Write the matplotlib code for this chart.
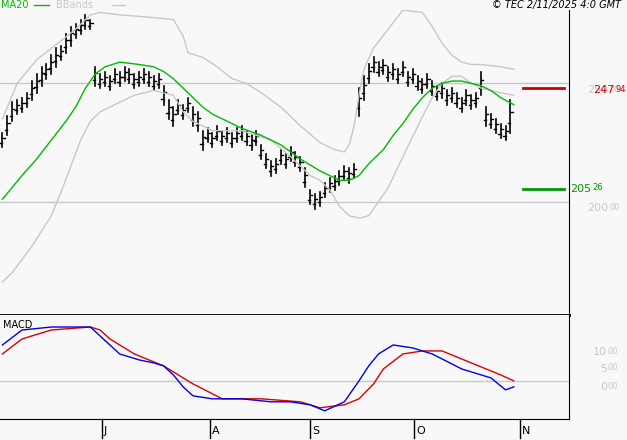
import matplotlib
matplotlib.use('Agg')
import matplotlib.pyplot as plt

# closing prices per bar (daily)
closes = [226, 232, 238, 240, 241, 243, 247, 250, 253, 255, 258, 261, 263, 267, 270, 272,
          274, 276, 275, 253, 251, 252, 250, 253, 252, 254, 253, 251, 252, 253, 252, 250,
          251, 245, 239, 236, 240, 238, 241, 236, 234, 226, 228, 226, 229, 227, 228, 226,
          228, 229, 227, 225, 227, 221, 217, 214, 215, 219, 217, 220, 218, 216, 210, 202,
          200, 201, 205, 207, 208, 210, 212, 211, 213, 242, 248, 254, 258, 256, 257, 254,
          255, 253, 256, 252, 253, 250, 249, 251, 248, 246, 247, 244, 245, 243, 241, 244,
          242, 243, 250, 236, 234, 232, 230, 229, 236]
half_range = [3, 4, 4, 3, 3, 3, 4, 4, 4, 3, 4, 4, 3, 4, 4, 3,
              3, 3, 2, 4, 3, 3, 3, 3, 3, 3, 3, 3, 3, 3, 3, 3,
              3, 4, 4, 4, 3, 3, 3, 4, 4, 4, 3, 3, 3, 3, 3, 3,
              3, 3, 3, 3, 3, 3, 3, 3, 3, 3, 3, 3, 3, 3, 4, 3,
              3, 3, 3, 3, 3, 3, 3, 3, 3, 6, 5, 4, 3, 3, 3, 3,
              3, 3, 3, 3, 3, 3, 3, 3, 3, 3, 3, 3, 3, 3, 3, 3,
              3, 3, 5, 4, 3, 3, 3, 3, 7]

# indicator traces (bar index, value)
ma_x = [0, 2, 4, 7, 10, 13, 15, 17, 19, 21, 24, 28, 31, 33, 35, 37, 39, 41, 43, 46, 49, 53,
        57, 61, 65, 69, 71, 73, 75, 78, 80, 82, 84, 86, 88, 90, 92, 94, 96, 98, 100, 102, 104.7]
ma_y = [201, 206, 211, 218, 226, 234, 240, 248, 254, 257, 259, 258, 257, 255, 252, 248, 244,
        240, 237, 234, 231, 228, 224, 218, 213, 209, 209, 211, 216, 222, 228, 233, 239, 244,
        248, 250, 251, 251, 250, 249, 247, 244, 241]
up_x = [0, 3, 7, 12, 15, 18, 20, 24, 30, 35, 37, 38, 41, 44, 47, 50, 53, 57, 61, 65, 68, 70,
        71, 72, 73, 74, 76, 79, 82, 86, 88, 90, 92, 94, 96, 98, 102, 104.7]
up_y = [235, 250, 260, 268, 273, 279, 280, 279, 278, 277, 270, 263, 261, 257, 252, 250, 246,
        240, 232, 225, 222, 221, 224, 232, 245, 256, 265, 273, 281, 280, 274, 267, 262, 259,
        258, 258, 257, 256]
lo_x = [0, 2, 6, 10, 12, 14, 16, 18, 20, 22, 27, 31, 35, 37, 39, 43, 49, 55, 59, 63, 65, 67,
        69, 71, 73, 75, 77, 79, 82, 86, 88, 90, 92, 94, 96, 98, 102, 104.7]
lo_y = [166, 170, 181, 194, 204, 215, 226, 234, 238, 240, 245, 247, 245, 238, 234, 230, 230,
        226, 219, 211, 209, 205, 198, 194, 193, 194, 200, 206, 219, 236, 244, 250, 253, 253,
        250, 248, 246, 245]
macd_x = [0, 4, 10, 18, 20, 22, 24, 28, 31, 33, 35, 37, 39, 43, 49, 55, 59, 63, 66, 70, 73,
          75, 77, 80, 84, 88, 94, 100, 103, 104.7]
macd_y = [12, 17, 18, 18, 15, 12, 9, 7, 6, 5, 2, -2, -5, -6, -6, -7, -7, -8, -10, -7, 0,
          5, 9, 12, 11, 9, 4, 1, -3, -2]
sig_x = [0, 4, 10, 18, 20, 22, 25, 27, 33, 39, 45, 53, 61, 65, 70, 73, 76, 78, 82, 86, 90,
         96, 102, 104.7]
sig_y = [9, 14, 17, 18, 17, 14, 11, 9, 5, -1, -6, -6, -7, -9, -8, -6, -1, 4, 9, 10, 10,
         6, 2, 0]

month_pos = [20.4, 42.4, 63, 84.3, 106]
month_labels = ['J', 'A', 'S', 'O', 'N']

W, H = 627, 440
bg = '#f8f8f8'
grey = '#c8c8c8'
fig = plt.figure(figsize=(6.27, 4.4), dpi=100, facecolor=bg)
ax = fig.add_axes([0, 0.284, 0.9075, 0.693], facecolor=bg)
ax2 = fig.add_axes([0, 0.048, 0.9075, 0.236], facecolor=bg)
xmax = 116
for a in (ax, ax2):
    a.set_xlim(-0.5, xmax)
    for s in ('left', 'top'):
        a.spines[s].set_visible(False)
    a.spines['right'].set_color('black')
    a.spines['bottom'].set_color('black')
    a.set_xticks([])
    a.set_yticks([])
ax.spines['bottom'].set_linewidth(2)

ax.set_ylim(152, 281)
for g in (250, 200):
    ax.axhline(g, color=grey, lw=1, zorder=0)

# bars
for i, c in enumerate(closes):
    r = half_range[i]
    ax.plot([i, i], [c - r, c + r], color='black', lw=1.2)
    ax.plot([i - 0.45, i], [c - r * 0.4, c - r * 0.4], color='black', lw=1)
    ax.plot([i, i + 0.45], [c + r * 0.3, c + r * 0.3], color='black', lw=1)

ax.plot(up_x, up_y, color=grey, lw=1)
ax.plot(lo_x, lo_y, color=grey, lw=1)
ax.plot(ma_x, ma_y, color='#00bb00', lw=1)

ax.plot([106.5, 115], [247.94, 247.94], color='#cc0000', lw=2)
ax.plot([106.5, 115], [205.26, 205.26], color='#009900', lw=2)


def label(px, py, big, small, color, ha='left'):
    t = fig.text(px / W, 1 - py / H, big, color=color, fontsize=8, va='center', ha=ha)
    fig.canvas.draw()
    bb = t.get_window_extent()
    fig.text((bb.x1 + 1) / W, 1 - (py - 1) / H, small, color=color, fontsize=6, va='center')


label(587, 90, '250', '00', grey)
label(587, 208, '200', '00', grey)
label(593, 90, '247', '94', '#cc0000')
label(570, 189, '205', '26', '#009900')

fig.text(0.002, 0.988, 'MA20', color='#00bb00', fontsize=7, va='center')
fig.add_artist(plt.Line2D([0.055, 0.078], [0.988, 0.988], color='#00bb00', lw=1))
fig.text(0.09, 0.988, 'BBands', color=grey, fontsize=7, va='center')
fig.add_artist(plt.Line2D([0.178, 0.2], [0.988, 0.988], color=grey, lw=1))
fig.text(0.99, 0.988, '© TEC 2/11/2025 4:0 GMT', color='black', fontsize=7,
         style='italic', ha='right', va='center')

# MACD panel
ax2.set_ylim(-12.7, 22)
ax2.axhline(0, color=grey, lw=1, zorder=0)
ax2.plot(sig_x, sig_y, color='#dd0000', lw=1)
ax2.plot(macd_x, macd_y, color='#0000ee', lw=1)
ax2.text(0.005, 0.9, 'MACD', transform=ax2.transAxes, fontsize=7, va='center')
for py, lab in ((352, '10'), (369, '5'), (387, '0')):
    t = fig.text(607 / W, 1 - py / H, lab, color=grey, fontsize=8, va='center', ha='right')
    fig.text(608 / W, 1 - (py - 1) / H, '00', color=grey, fontsize=6, va='center')

for p, lab in zip(month_pos, month_labels):
    xf = (p + 0.5) / (xmax + 0.5) * 0.9075
    fig.add_artist(plt.Line2D([xf] * 2, [0.048, 0.005], color='black', lw=1))
    fig.text(xf + 0.003, 0.02, lab, fontsize=8, va='center')

fig.savefig('out.png', dpi=100, facecolor=bg)
